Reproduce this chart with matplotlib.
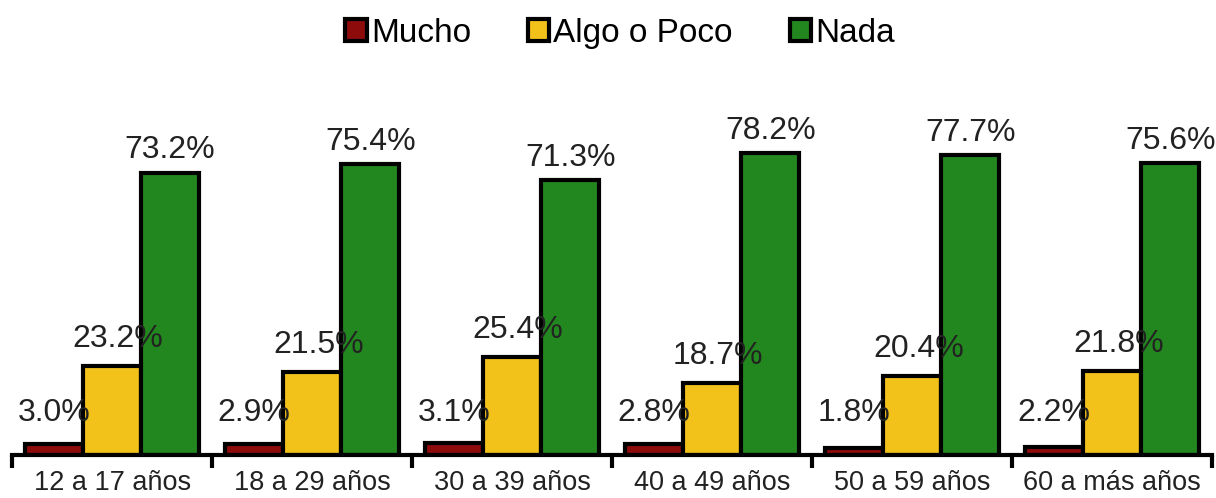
import matplotlib
matplotlib.use("Agg")
import matplotlib.pyplot as plt
import numpy as np
from matplotlib.patches import Patch

plt.rcParams["font.family"] = ["Liberation Sans", "DejaVu Sans"]

grupos = ["12 a 17 años", "18 a 29 años", "30 a 39 años", "40 a 49 años",
          "50 a 59 años", "60 a más años"]
mucho = [3.0, 2.9, 3.1, 2.8, 1.8, 2.2]
algo_poco = [23.2, 21.5, 25.4, 18.7, 20.4, 21.8]
nada = [73.2, 75.4, 71.3, 78.2, 77.7, 75.6]
series_names = ["Mucho", "Algo o Poco", "Nada"]
colors = ["#8E0B0B", "#F2C21B", "#22871E"]

fig = plt.figure(figsize=(12.16, 4.98), dpi=100)
ax = fig.add_axes([0.01, 0.086, 0.987, 0.775])

x = np.arange(len(grupos))
w = 0.29
for off, vals, c in zip([-w, 0, w], [mucho, algo_poco, nada], colors):
    ax.bar(x + off, vals, width=w, color=c, edgecolor="black", linewidth=3)

# data labels
for i in range(len(grupos)):
    ax.text(x[i] - w, 11, f"{mucho[i]:.1f}%", ha="center", va="center",
            fontsize=23, color="#222222")
    ax.text(x[i] + 0.03, algo_poco[i] + 7, f"{algo_poco[i]:.1f}%", ha="center",
            va="center", fontsize=23, color="#222222")
    ax.text(x[i] + w, nada[i] + 5.8, f"{nada[i]:.1f}%", ha="center",
            va="center", fontsize=23, color="#222222")

ax.set_xlim(-0.5, len(grupos) - 0.5)
ax.set_ylim(0, 100)
ax.set_xticks(np.arange(-0.5, len(grupos), 1.0))
ax.set_xticklabels([])
ax.tick_params(axis="x", which="major", length=9, width=3, direction="out")
ax.set_xticks(x, minor=True)
ax.set_xticklabels(grupos, minor=True, fontsize=19.5, color="#222222")
ax.tick_params(axis="x", which="minor", length=0, pad=11)
ax.set_yticks([])
for s in ["top", "right", "left"]:
    ax.spines[s].set_visible(False)
ax.spines["bottom"].set_linewidth(3)

handles = [Patch(facecolor=c, edgecolor="black", linewidth=3, label=n)
           for c, n in zip(colors, series_names)]
fig.legend(handles=handles, loc="upper center", bbox_to_anchor=(0.51, 1.025),
           ncol=3, frameon=False, fontsize=24, handlelength=0.65,
           handleheight=0.65, handletextpad=0.12, columnspacing=1.7)

fig.savefig("out.png", dpi=100)
